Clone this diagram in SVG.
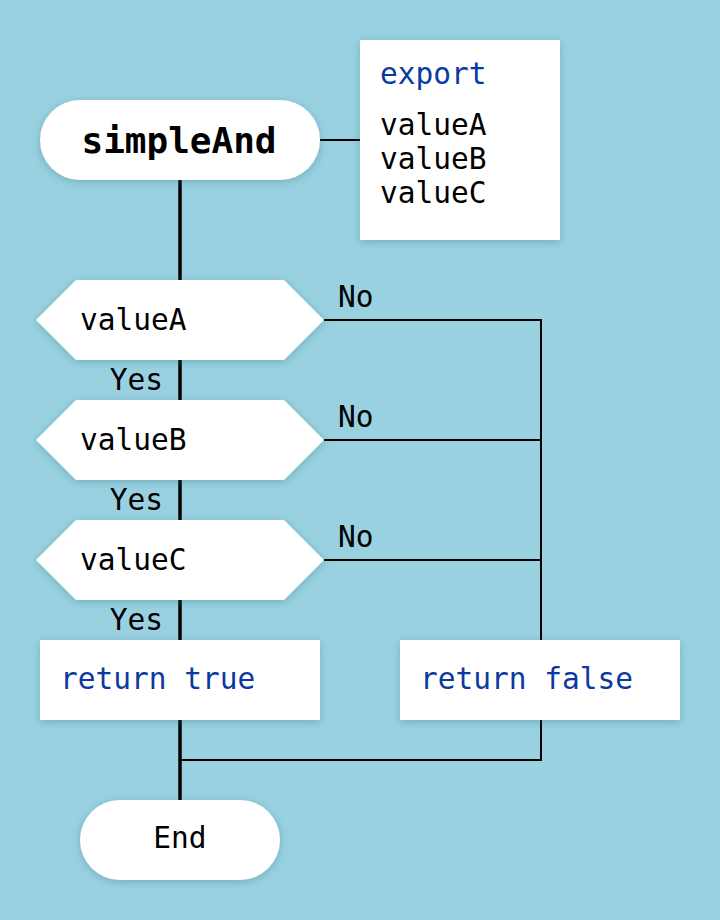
<svg xmlns="http://www.w3.org/2000/svg" width="720" height="920" viewBox="0 0 720 920">
<defs>
<filter id="sh" x="-20%" y="-20%" width="140%" height="140%">
<feDropShadow dx="0" dy="2" stdDeviation="4" flood-color="#2a6f80" flood-opacity="0.35"/>
</filter>
</defs>
<style>
.node{fill:#fff;filter:url(#sh)}
text{font-family:"DejaVu Sans Mono","Liberation Mono",monospace;font-size:29.5px;fill:#000}
.kw{fill:#0a3a9e}
.thick{stroke:#000;stroke-width:3.5;fill:none}
.thin{stroke:#000;stroke-width:2;fill:none}
</style>
<rect width="720" height="920" fill="#99D1E0"/>
<g id="connectors">
<line class="thin" x1="320" y1="140" x2="360" y2="140"/>
<line class="thick" x1="180" y1="180" x2="180" y2="800"/>
<polyline class="thin" points="324,320 541,320 541,640"/>
<line class="thin" x1="324" y1="440" x2="541" y2="440"/>
<line class="thin" x1="324" y1="560" x2="541" y2="560"/>
<polyline class="thin" points="541,720 541,760 180,760"/>
<text x="163" y="390" text-anchor="end">Yes</text>
<text x="163" y="510" text-anchor="end">Yes</text>
<text x="163" y="630" text-anchor="end">Yes</text>
<text x="338" y="307">No</text>
<text x="338" y="427">No</text>
<text x="338" y="547">No</text>
</g>
<g id="start">
<rect class="node" x="40" y="100" width="280" height="80" rx="40"/>
<text x="179" y="153" text-anchor="middle" font-weight="bold" style="font-size:36px">simpleAnd</text>
</g>
<g id="export">
<rect class="node" x="360" y="40" width="200" height="200"/>
<text class="kw" x="380" y="84">export</text>
<text x="380" y="135">valueA</text>
<text x="380" y="169">valueB</text>
<text x="380" y="203">valueC</text>
</g>
<g id="decA">
<polygon class="node" points="36,320 76,280 284,280 324,320 284,360 76,360"/>
<text x="80" y="330">valueA</text>
</g>
<g id="decB">
<polygon class="node" points="36,440 76,400 284,400 324,440 284,480 76,480"/>
<text x="80" y="450">valueB</text>
</g>
<g id="decC">
<polygon class="node" points="36,560 76,520 284,520 324,560 284,600 76,600"/>
<text x="80" y="570">valueC</text>
</g>
<g id="retTrue">
<rect class="node" x="40" y="640" width="280" height="80"/>
<text class="kw" x="60" y="689">return true</text>
</g>
<g id="retFalse">
<rect class="node" x="400" y="640" width="280" height="80"/>
<text class="kw" x="420" y="689">return false</text>
</g>
<g id="end">
<rect class="node" x="80" y="800" width="200" height="80" rx="40"/>
<text x="180" y="848" text-anchor="middle">End</text>
</g>
</svg>
